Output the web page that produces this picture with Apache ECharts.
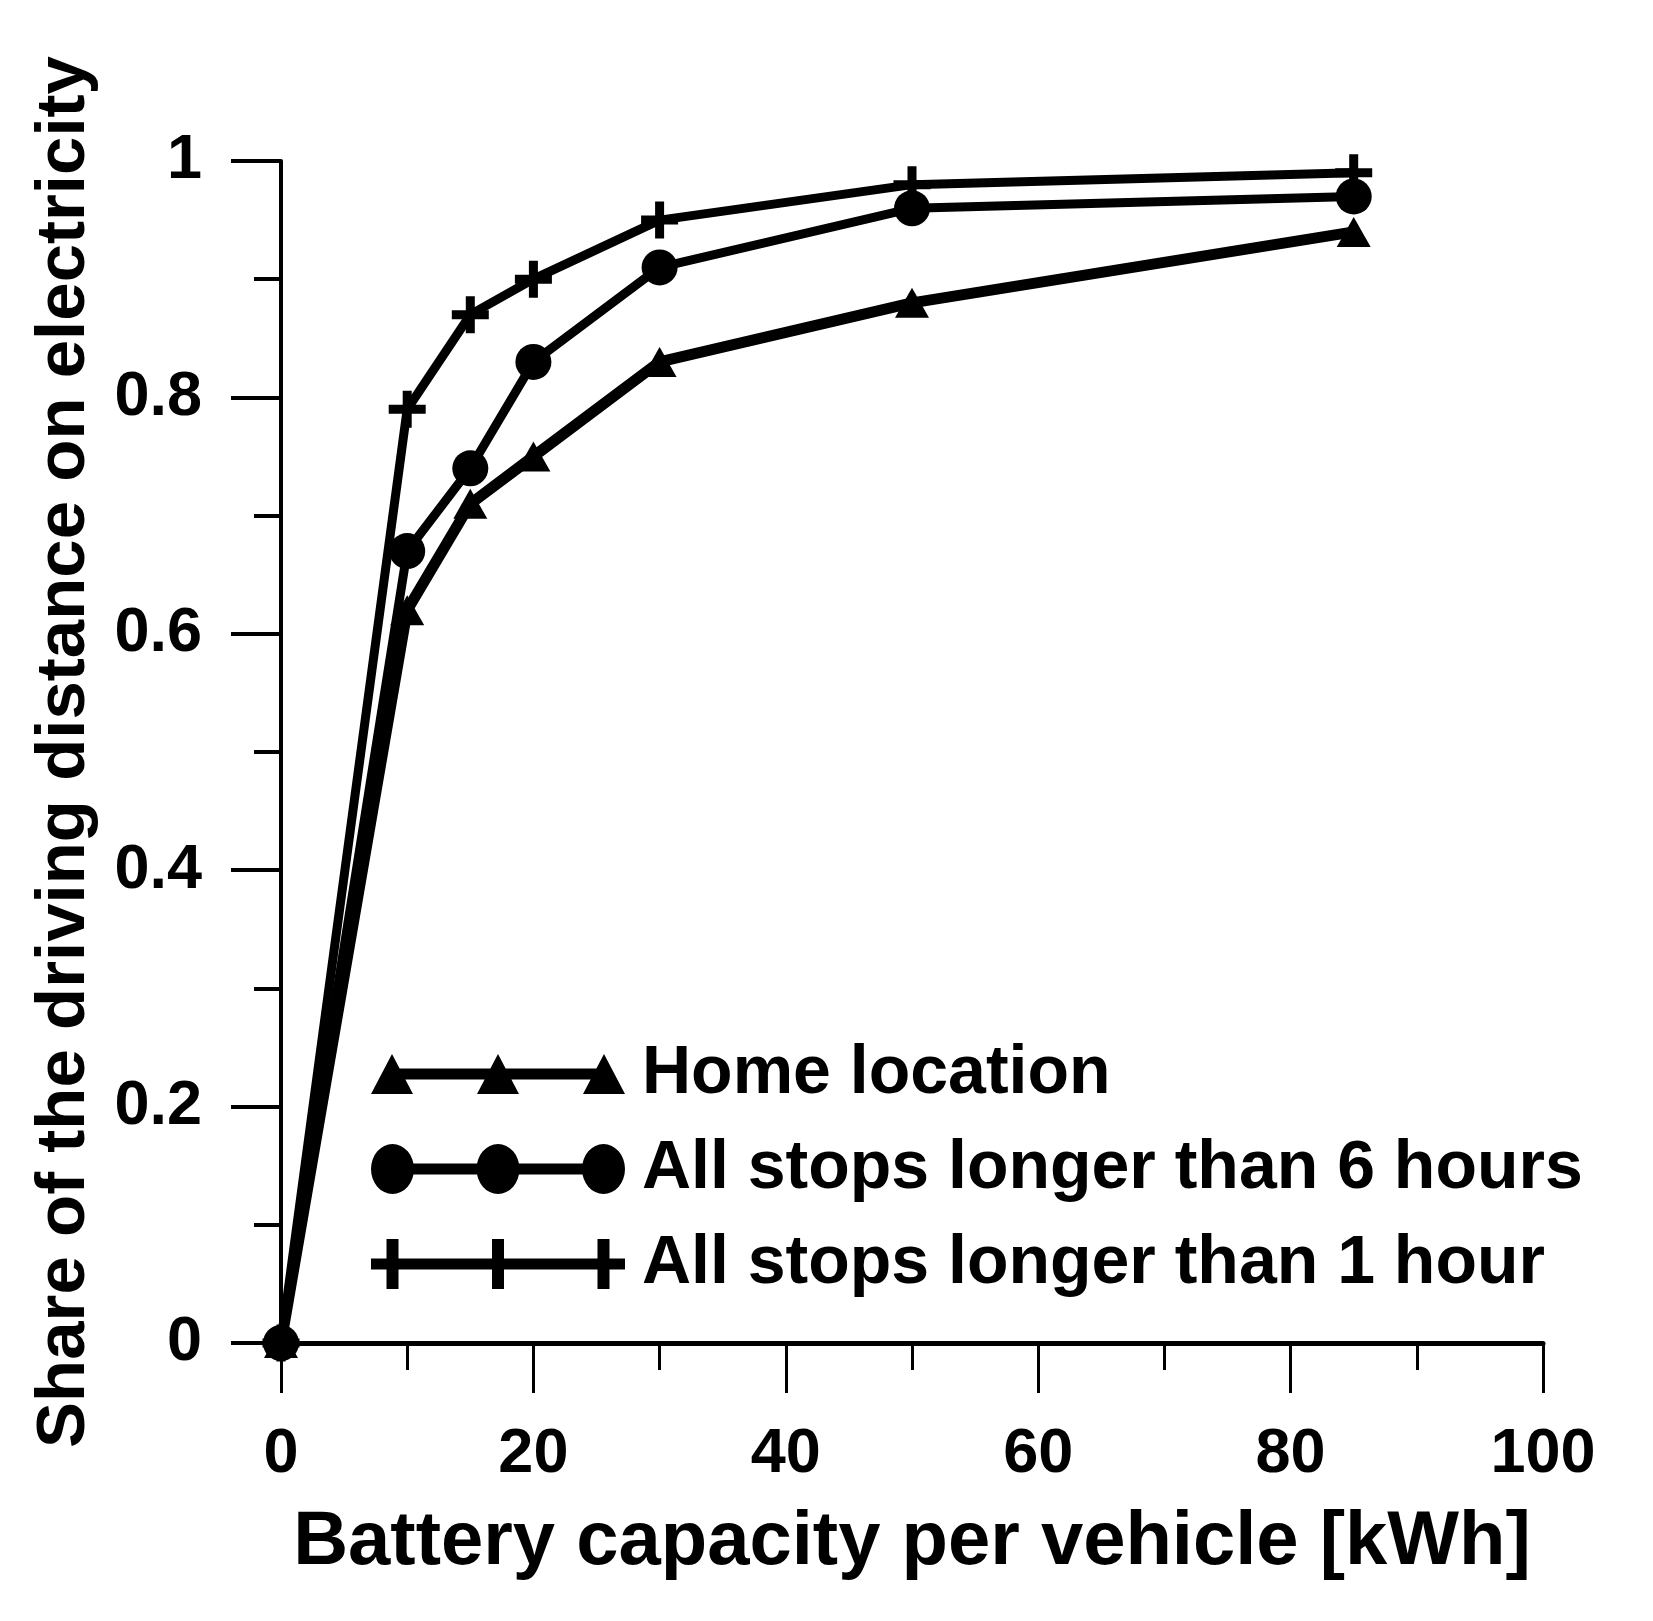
<!DOCTYPE html>
<html>
<head>
<meta charset="utf-8">
<script src="https://cdn.jsdelivr.net/npm/echarts@6/dist/echarts.min.js"></script>
<style>
html,body{margin:0;padding:0;background:#fff;}
#chart{width:1653px;height:1621px;}
</style>
</head>
<body>
<div id="chart"></div>
<script>
// Data
var capacities = [0, 10, 15, 20, 30, 50, 85];
var homeLocation = [0, 0.62, 0.71, 0.75, 0.83, 0.88, 0.94];
var stops6h = [0, 0.67, 0.74, 0.83, 0.91, 0.96, 0.97];
var stops1h = [0, 0.79, 0.87, 0.90, 0.95, 0.98, 0.99];
var seriesNames = ['Home location', 'All stops longer than 6 hours', 'All stops longer than 1 hour'];
var xAxisTitle = 'Battery capacity per vehicle [kWh]';
var yAxisTitle = 'Share of the driving distance on electricity';

function pairs(ys) { return capacities.map(function (x, i) { return [x, ys[i]]; }); }

var FONT = '"Liberation Sans", Arial, sans-serif';
var plusSymbol = 'path://M14,0h9v14h14v9h-14v14h-9v-14h-14v-9h14z';

var legendTri = 'path://M127,0L127.5,0L127,0.02Z M127,50L127.5,50L127,49.98Z ' +
  'M0,45L21,5L42,45Z M106,45L127,5L148,45Z M212,45L233,5L254,45Z ' +
  'M28,19.5H120V30.5H28Z M134,19.5H226V30.5H134Z';
var legendCircle = 'path://M0,25A21.5,25,0,1,1,43,25A21.5,25,0,1,1,0,25Z ' +
  'M105.5,25A21.5,25,0,1,1,148.5,25A21.5,25,0,1,1,105.5,25Z ' +
  'M211,25A21.5,25,0,1,1,254,25A21.5,25,0,1,1,211,25Z ' +
  'M40,19.5H108V30.5H40Z M146,19.5H213V30.5H146Z';
var legendPlus = 'path://M15.5,0H27.5V50H15.5Z M121,0H133V50H121Z M226.5,0H238.5V50H226.5Z M0,19.5H254V30.5H0Z';

var chart = echarts.init(document.getElementById('chart'));
chart.setOption({
  backgroundColor: '#fff',
  animation: false,
  grid: { left: 281, right: 110, top: 161, bottom: 278, containLabel: false },
  legend: {
    orient: 'vertical',
    left: 371,
    top: 1040,
    padding: 0,
    itemWidth: 254,
    itemHeight: 50,
    itemGap: 27,
    itemStyle: { borderWidth: 0 },
    textStyle: { fontFamily: FONT, fontWeight: 'bold', fontSize: 68, color: '#000', lineHeight: 50, padding: [0, 0, 0, 12] },
    data: [
      { name: seriesNames[0], icon: legendTri },
      { name: seriesNames[1], icon: legendCircle },
      { name: seriesNames[2], icon: legendPlus }
    ]
  },
  xAxis: {
    type: 'value',
    min: 0, max: 100, interval: 20,
    name: xAxisTitle,
    nameLocation: 'middle',
    nameGap: 162,
    nameTextStyle: { fontFamily: FONT, fontWeight: 'bold', fontSize: 76, color: '#000' },
    axisLine: { show: true, onZero: false, lineStyle: { color: '#000', width: 5 } },
    axisTick: { show: true, inside: false, length: 50, lineStyle: { color: '#000', width: 3 } },
    minorTick: { show: true, splitNumber: 2, length: 27, lineStyle: { color: '#000', width: 3 } },
    splitLine: { show: false },
    axisLabel: { fontFamily: FONT, fontWeight: 'bold', fontSize: 63, color: '#000', margin: 80 }
  },
  yAxis: {
    type: 'value',
    min: 0, max: 1, interval: 0.2,
    name: yAxisTitle,
    nameLocation: 'middle',
    nameGap: 182,
    nameTextStyle: { fontFamily: FONT, fontWeight: 'bold', fontSize: 69, color: '#000' },
    axisLine: { show: true, onZero: false, lineStyle: { color: '#000', width: 4 } },
    axisTick: { show: true, inside: false, length: 50, lineStyle: { color: '#000', width: 4 } },
    minorTick: { show: true, splitNumber: 2, length: 27, lineStyle: { color: '#000', width: 4 } },
    splitLine: { show: false },
    axisLabel: { fontFamily: FONT, fontWeight: 'bold', fontSize: 63, color: '#000', margin: 79 }
  },
  series: [
    {
      name: seriesNames[0], type: 'line', data: pairs(homeLocation),
      symbol: 'triangle', symbolSize: [34, 30], showAllSymbol: true,
      lineStyle: { color: '#000', width: 11 }, itemStyle: { color: '#000' }
    },
    {
      name: seriesNames[1], type: 'line', data: pairs(stops6h),
      symbol: 'circle', symbolSize: 36, showAllSymbol: true,
      lineStyle: { color: '#000', width: 9 }, itemStyle: { color: '#000' }
    },
    {
      name: seriesNames[2], type: 'line', data: pairs(stops1h),
      symbol: plusSymbol, symbolSize: 37, showAllSymbol: true,
      lineStyle: { color: '#000', width: 9 }, itemStyle: { color: '#000' }
    }
  ]
});
</script>
</body>
</html>
